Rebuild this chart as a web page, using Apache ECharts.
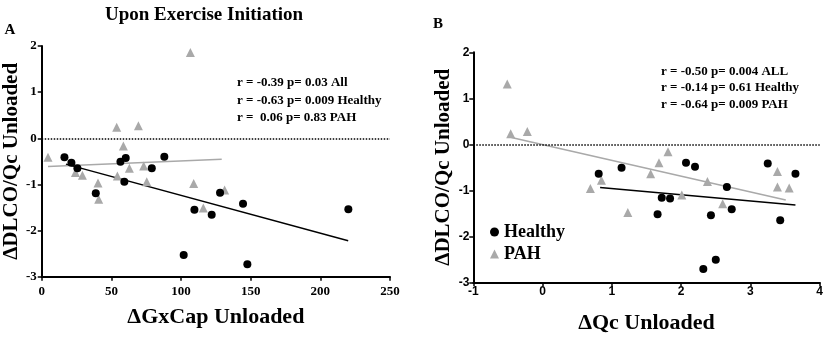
<!DOCTYPE html>
<html>
<head>
<meta charset="utf-8">
<script src="https://cdn.jsdelivr.net/npm/echarts@6/dist/echarts.min.js"></script>
<style>
  html, body { margin: 0; background: #fff; }
  #chart { width: 833px; height: 353px; }
</style>
</head>
<body>
<div id="chart"></div>
<script>
// panel A: ΔGxCap Unloaded (x) vs ΔDLCO/Qc Unloaded (y)
const healthyA = [
  [16.3, -0.41], [21.3, -0.53], [25.6, -0.65], [38.8, -1.19], [56.5, -0.51],
  [60.3, -0.43], [59.3, -0.94], [79, -0.65], [88, -0.40], [101.9, -2.53],
  [109.6, -1.55], [122, -1.66], [128, -1.18], [144.5, -1.42], [147.6, -2.73],
  [220.1, -1.54]
];
const pahA = [
  [4.5, -0.41], [24.2, -0.74], [29.2, -0.80], [40.4, -0.97], [40.9, -1.32],
  [53.8, 0.24], [54.3, -0.82], [58.6, -0.17], [69.4, 0.27], [62.9, -0.65],
  [73.2, -0.60], [75.4, -0.94], [106.7, 1.86], [109.1, -0.98], [116, -1.51],
  [131.3, -1.12]
];
const fitHealthyA = [[17.4, -0.56], [220, -2.22]];
const fitPahA = [[4.5, -0.61], [129.2, -0.455]];

// panel B: ΔQc Unloaded (x) vs ΔDLCO/Qc Unloaded (y)
const healthyB = [
  [0.81, -0.64], [1.14, -0.51], [1.66, -1.52], [1.72, -1.16], [1.84, -1.18],
  [2.07, -0.40], [2.20, -0.49], [2.32, -2.71], [2.43, -1.54], [2.50, -2.51],
  [2.66, -0.93], [2.73, -1.41], [3.25, -0.42], [3.43, -1.65], [3.65, -0.64]
];
const pahB = [
  [-0.51, 1.31], [-0.46, 0.23], [-0.22, 0.28], [0.69, -0.96], [0.85, -0.78],
  [1.23, -1.48], [1.56, -0.64], [1.68, -0.40], [1.81, -0.16], [2.01, -1.10],
  [2.38, -0.81], [2.60, -1.29], [3.39, -0.59], [3.39, -0.93], [3.56, -0.95]
];
const fitHealthyB = [[0.83, -0.94], [3.65, -1.32]];
const fitPahB = [[-0.45, 0.15], [3.51, -1.21]];

const statsA = ['r = -0.39 p= 0.03 All', 'r = -0.63 p= 0.009 Healthy', 'r =  0.06 p= 0.83 PAH'];
const statsB = ['r = -0.50 p= 0.004 ALL', 'r = -0.14 p= 0.61 Healthy', 'r = -0.64 p= 0.009 PAH'];

const SERIF = '"Liberation Serif", "DejaVu Serif", serif';
const SANS = '"Liberation Sans", Arial, sans-serif';
const GRAY = '#a9a9a9';

function axisCommon(fontFamily, fontSize, margin) {
  return {
    axisLine: { show: true, onZero: false, lineStyle: { color: '#000', width: 2 } },
    axisTick: { show: true, length: 4, lineStyle: { color: '#000', width: 1.5 } },
    axisLabel: { color: '#000', fontWeight: 'bold', fontSize: fontSize, fontFamily: fontFamily, margin: margin },
    splitLine: { show: false },
    nameTextStyle: { color: '#000', fontWeight: 'bold', fontSize: 22, fontFamily: SERIF },
    nameLocation: 'middle'
  };
}

const zeroLine = {
  silent: true, symbol: 'none', label: { show: false },
  lineStyle: { color: '#000', type: 'dotted', width: 1.5 },
  data: [{ yAxis: 0 }]
};

const yName = { color: '#000', fontWeight: 'bold', fontSize: 21, fontFamily: SERIF };

const chart = echarts.init(document.getElementById('chart'));
chart.setOption({
  animation: false,
  grid: [
    { left: 41.7, top: 46, width: 348.3, height: 230.7 },
    { left: 473.3, top: 52.3, width: 346.4, height: 230 }
  ],
  xAxis: [
    Object.assign(axisCommon(SERIF, 13, 8), { gridIndex: 0, type: 'value', min: 0, max: 250, interval: 50, name: 'ΔGxCap Unloaded', nameGap: 30 }),
    Object.assign(axisCommon(SANS, 12, 3), { gridIndex: 1, type: 'value', min: -1, max: 4, interval: 1, name: 'ΔQc Unloaded', nameGap: 30 })
  ],
  yAxis: [
    Object.assign(axisCommon(SERIF, 13, 5), { gridIndex: 0, type: 'value', min: -3, max: 2, interval: 1, name: 'ΔDLCO/Qc Unloaded', nameGap: 19, nameTextStyle: yName }),
    Object.assign(axisCommon(SANS, 12, 4), { gridIndex: 1, type: 'value', min: -3, max: 2, interval: 1, name: 'ΔDLCO/Qc Unloaded', nameGap: 19, nameTextStyle: yName })
  ],
  legend: {
    data: [
      { name: 'Healthy', icon: 'circle' },
      { name: 'PAH', icon: 'triangle' }
    ],
    orient: 'vertical', left: 485, top: 218, itemWidth: 9, itemHeight: 9, itemGap: 4,
    textStyle: { color: '#000', fontWeight: 'bold', fontSize: 18, fontFamily: SERIF }
  },
  series: [
    { type: 'line', xAxisIndex: 0, yAxisIndex: 0, data: fitPahA, symbol: 'none', lineStyle: { color: GRAY, width: 1.5 }, markLine: zeroLine, z: 1 },
    { type: 'line', xAxisIndex: 0, yAxisIndex: 0, data: fitHealthyA, symbol: 'none', lineStyle: { color: '#000', width: 1.5 }, z: 1 },
    { name: 'PAH', type: 'scatter', xAxisIndex: 0, yAxisIndex: 0, data: pahA, symbol: 'triangle', symbolSize: 9, itemStyle: { color: GRAY, opacity: 1 }, z: 2 },
    { name: 'Healthy', type: 'scatter', xAxisIndex: 0, yAxisIndex: 0, data: healthyA, symbol: 'circle', symbolSize: 8, itemStyle: { color: '#000', opacity: 1 }, z: 3 },

    { type: 'line', xAxisIndex: 1, yAxisIndex: 1, data: fitPahB, symbol: 'none', lineStyle: { color: GRAY, width: 1.5 }, markLine: zeroLine, z: 1 },
    { type: 'line', xAxisIndex: 1, yAxisIndex: 1, data: fitHealthyB, symbol: 'none', lineStyle: { color: '#000', width: 1.5 }, z: 1 },
    { name: 'PAH', type: 'scatter', xAxisIndex: 1, yAxisIndex: 1, data: pahB, symbol: 'triangle', symbolSize: 9, itemStyle: { color: GRAY, opacity: 1 }, z: 2 },
    { name: 'Healthy', type: 'scatter', xAxisIndex: 1, yAxisIndex: 1, data: healthyB, symbol: 'circle', symbolSize: 8, itemStyle: { color: '#000', opacity: 1 }, z: 3 }
  ],
  graphic: [
    { type: 'text', style: { text: 'Upon Exercise Initiation', x: 204, y: 15, align: 'center', verticalAlign: 'middle', font: 'bold 19px ' + SERIF, fill: '#000' } },
    { type: 'text', style: { text: 'A', x: 10, y: 30, align: 'center', verticalAlign: 'middle', font: 'bold 15px ' + SERIF, fill: '#000' } },
    { type: 'text', style: { text: 'B', x: 438, y: 24, align: 'center', verticalAlign: 'middle', font: 'bold 15px ' + SERIF, fill: '#000' } },
    { type: 'text', style: { text: statsA.join('\n'), x: 237, y: 74, lineHeight: 17.5, font: 'bold 13px ' + SERIF, fill: '#000' } },
    { type: 'text', style: { text: statsB.join('\n'), x: 661, y: 63, lineHeight: 16.7, font: 'bold 13px ' + SERIF, fill: '#000' } }
  ]
});
</script>
</body>
</html>
